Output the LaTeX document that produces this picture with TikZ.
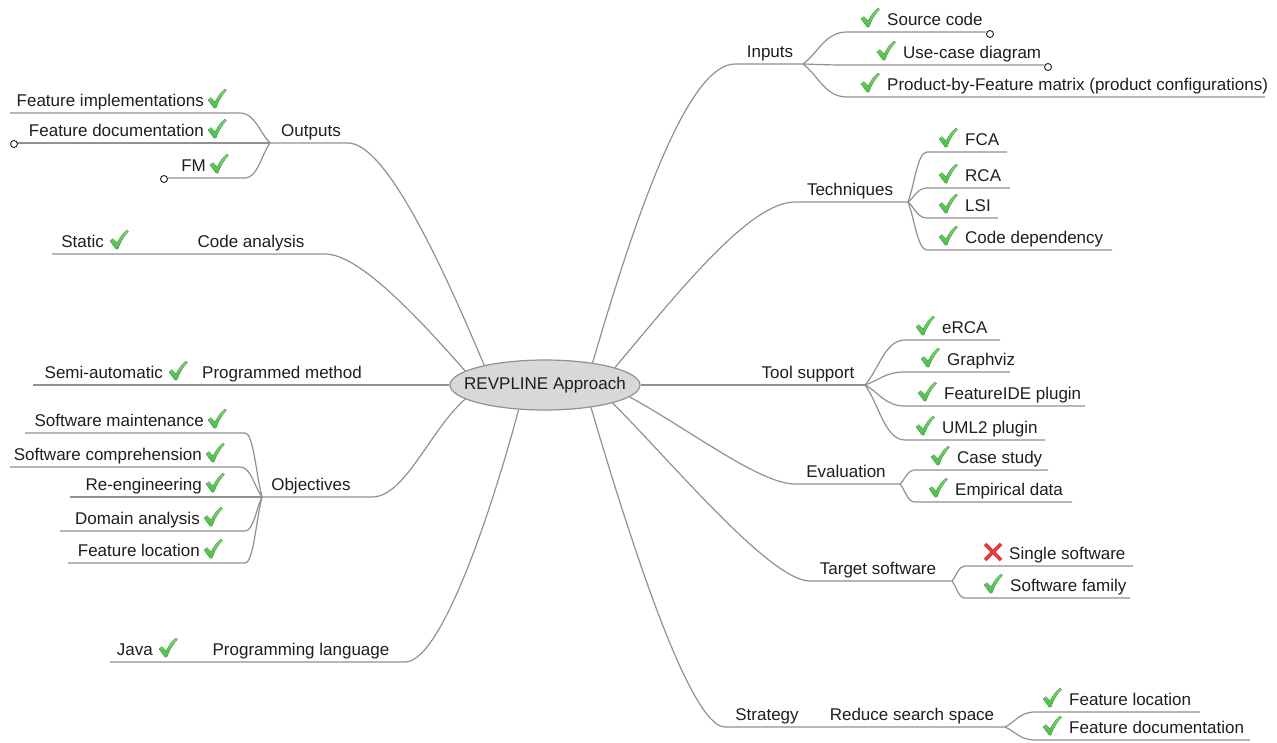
\documentclass[tikz,border=0pt]{standalone}
\usepackage{fontspec}
\setmainfont{Liberation Sans}
\usetikzlibrary{calc,shapes.geometric}
\definecolor{lncol}{RGB}{145,145,145}
\definecolor{txtcol}{RGB}{30,30,30}
\definecolor{chkgreen}{RGB}{70,190,70}
\definecolor{chklight}{RGB}{120,215,110}
\definecolor{xred}{RGB}{225,60,60}
\definecolor{rootfill}{RGB}{216,216,216}
\tikzset{
  ln/.style={draw=lncol, line width=1.2pt},
  lbl/.style={inner sep=0pt, text=txtcol},
  chk/.pic={\fill[top color=chklight, bottom color=chkgreen] (-9,1) -- (-6,-1.5) -- (-2,3) .. controls (1,-3) and (4,-7) .. (8,-10) -- (9.5,-8.5) .. controls (5,-4) and (1,3) .. (-1,9) -- (-3,9) -- cycle;},
  xmark/.pic={\draw[xred, line width=3.8pt] (-8,-8) -- (8,8) (-8,8) -- (8,-8);},
  endcirc/.style={draw=txtcol, fill=white, line width=0.9pt},
}
% left leaf: name, text, check x, underline y, line left x, line right x, branch
\newcommand\mmleft[7]{%
  \coordinate (#1a) at (#5,#4); \coordinate (#1b) at (#6,#4);
  \node[lbl,anchor=base east] (#1) at (#3-13,#4-7) {#2};
  \pic at (#3,#4-14) {chk};
  \draw[ln] (#1a) -- (#1b) .. controls ($(#1b)!0.5!(#7|-#1b)$) and ($(#7)!0.35!(#1b)$) .. (#7);
}
% right leaf: name, text, check x, underline y, line left x, line right x, branch
\newcommand\mmright[7]{%
  \coordinate (#1a) at (#5,#4); \coordinate (#1b) at (#6,#4);
  \node[lbl,anchor=base west] (#1) at (#3+17,#4-7) {#2};
  \pic at (#3,#4-14) {chk};
  \draw[ln] (#7) .. controls ($(#7)!0.35!(#1a)$) and ($(#1a)!0.5!(#7|-#1a)$) .. (#1a) -- (#1b);
}
\begin{document}
\begin{tikzpicture}[x=1pt,y=-1pt,font=\fontsize{17}{20}\selectfont]
\useasboundingbox (0,0) rectangle (1277,742);

\node[ellipse, draw=lncol, fill=rootfill, line width=1.2pt, minimum width=190pt, minimum height=50pt, inner sep=0pt,
  label={[text=txtcol,inner sep=0pt]center:REVPLINE Approach}] (root) at (545,385) {};

% ---------- topics ----------
\node[lbl,anchor=base] (outputs) at (311,136) {Outputs};
\node[lbl,anchor=base] (codean) at (251,247) {Code analysis};
\node[lbl,anchor=base] (progm) at (282,378) {Programmed method};
\node[lbl,anchor=base] (objectives) at (311,490) {Objectives};
\node[lbl,anchor=base] (proglang) at (301,655) {Programming language};
\node[lbl,anchor=base] (inputs) at (770,57) {Inputs};
\node[lbl,anchor=base] (techniques) at (850,195) {Techniques};
\node[lbl,anchor=base] (toolsup) at (808,378) {Tool support};
\node[lbl,anchor=base] (evaluation) at (846,477) {Evaluation};
\node[lbl,anchor=base] (target) at (878,574) {Target software};
\node[lbl,anchor=base] (strategy) at (767,720) {Strategy};
\node[lbl,anchor=base] (rss) at (912,720) {Reduce search space};

% ---------- topic underlines / branch points ----------
\coordinate (outA) at (348,143); \coordinate (outB) at (270,143);
\coordinate (caA) at (325,254);
\coordinate (pmA) at (33,385);
\coordinate (objA) at (372,497); \coordinate (objB) at (262,497);
\coordinate (plA) at (405,662);
\coordinate (inA) at (735,64); \coordinate (inB) at (803,64);
\coordinate (teA) at (795,202); \coordinate (teB) at (908,202);
\coordinate (tsB) at (865,385);
\coordinate (evA) at (795,484); \coordinate (evB) at (900,484);
\coordinate (tgA) at (810,581); \coordinate (tgB) at (952,581);
\coordinate (stA) at (725,727); \coordinate (stB) at (1005,727);

% ---------- main connectors ----------
\draw[ln] (root.162) .. controls (440,260) and (385,143) .. (outA) -- (outB);
\draw[ln] (root.170) .. controls (420,320) and (360,254) .. (caA) -- (52,254);
\draw[ln] (root.180) -- (pmA);
\draw[ln] (root.190) .. controls (430,430) and (405,497) .. (objA) -- (objB);
\draw[ln] (root.223) .. controls (500,480) and (445,662) .. (plA) -- (110,662);
\draw[ln] (root.25) .. controls (640,200) and (690,64) .. (inA) -- (inB);
\draw[ln] (root.14) .. controls (680,290) and (750,202) .. (teA) -- (teB);
\draw[ln] (root.0) -- (tsB);
\draw[ln] (root.352) .. controls (690,430) and (760,484) .. (evA) -- (evB);
\draw[ln] (root.345) .. controls (670,460) and (770,581) .. (tgA) -- (tgB);
\draw[ln] (root.334) .. controls (630,540) and (690,727) .. (stA) -- (stB);

% ---------- left leaves ----------
\mmleft{fi}{Feature implementations}{217}{113}{10}{240}{outB}
\mmleft{fd}{Feature documentation}{217}{143}{17}{270}{outB}
\mmleft{fm}{FM}{219}{178}{168}{245}{outB}
\draw[endcirc] (14,144) circle (3.5);
\draw[endcirc] (164,179) circle (3.5);

\node[lbl,anchor=base east] (static) at (104,247) {Static};
\pic at (119,240) {chk};
\node[lbl,anchor=base east] (semi) at (163,378) {Semi-automatic};
\pic at (178,371) {chk};
\node[lbl,anchor=base east] (java) at (153,655) {Java};
\pic at (168,648) {chk};

\mmleft{sm}{Software maintenance}{217}{433}{25}{245}{objB}
\mmleft{sc}{Software comprehension}{215}{467}{10}{240}{objB}
\mmleft{re}{Re-engineering}{215}{497}{70}{262}{objB}
\mmleft{da}{Domain analysis}{213}{531}{60}{245}{objB}
\mmleft{fl}{Feature location}{213}{563}{68}{245}{objB}

% ---------- right leaves ----------
\mmright{sco}{Source code}{870}{32}{847}{986}{inB}
\mmright{ucd}{Use-case diagram}{886}{65}{847}{1044}{inB}
\mmright{pbf}{Product-by-Feature matrix (product configurations)}{870}{97}{847}{1265}{inB}
\draw[endcirc] (990,34) circle (3.5);
\draw[endcirc] (1048,67) circle (3.5);

\mmright{fca}{FCA}{948}{152}{927}{1007}{teB}
\mmright{rca}{RCA}{948}{188}{927}{1010}{teB}
\mmright{lsi}{LSI}{948}{218}{927}{998}{teB}
\mmright{cdep}{Code dependency}{948}{250}{927}{1112}{teB}

\mmright{erca}{eRCA}{925}{340}{905}{1000}{tsB}
\mmright{gviz}{Graphviz}{930}{372}{905}{1010}{tsB}
\mmright{fide}{FeatureIDE plugin}{927}{406}{905}{1085}{tsB}
\mmright{uml}{UML2 plugin}{925}{440}{905}{1045}{tsB}

\mmright{cs}{Case study}{940}{470}{915}{1048}{evB}
\mmright{emp}{Empirical data}{938}{502}{915}{1072}{evB}

% Single software (cross)
\coordinate (sswa) at (965,566); \coordinate (sswb) at (1133,566);
\node[lbl,anchor=base west] (ssw) at (1009,559) {Single software};
\pic at (993,552) {xmark};
\draw[ln] (tgB) .. controls ($(tgB)!0.35!(sswa)$) and ($(sswa)!0.5!(tgB|-sswa)$) .. (sswa) -- (sswb);
\mmright{sfam}{Software family}{993}{598}{965}{1130}{tgB}

\mmright{flr}{Feature location}{1052}{712}{1035}{1200}{stB}
\mmright{fdr}{Feature documentation}{1052}{740}{1035}{1250}{stB}

\end{tikzpicture}
\end{document}
